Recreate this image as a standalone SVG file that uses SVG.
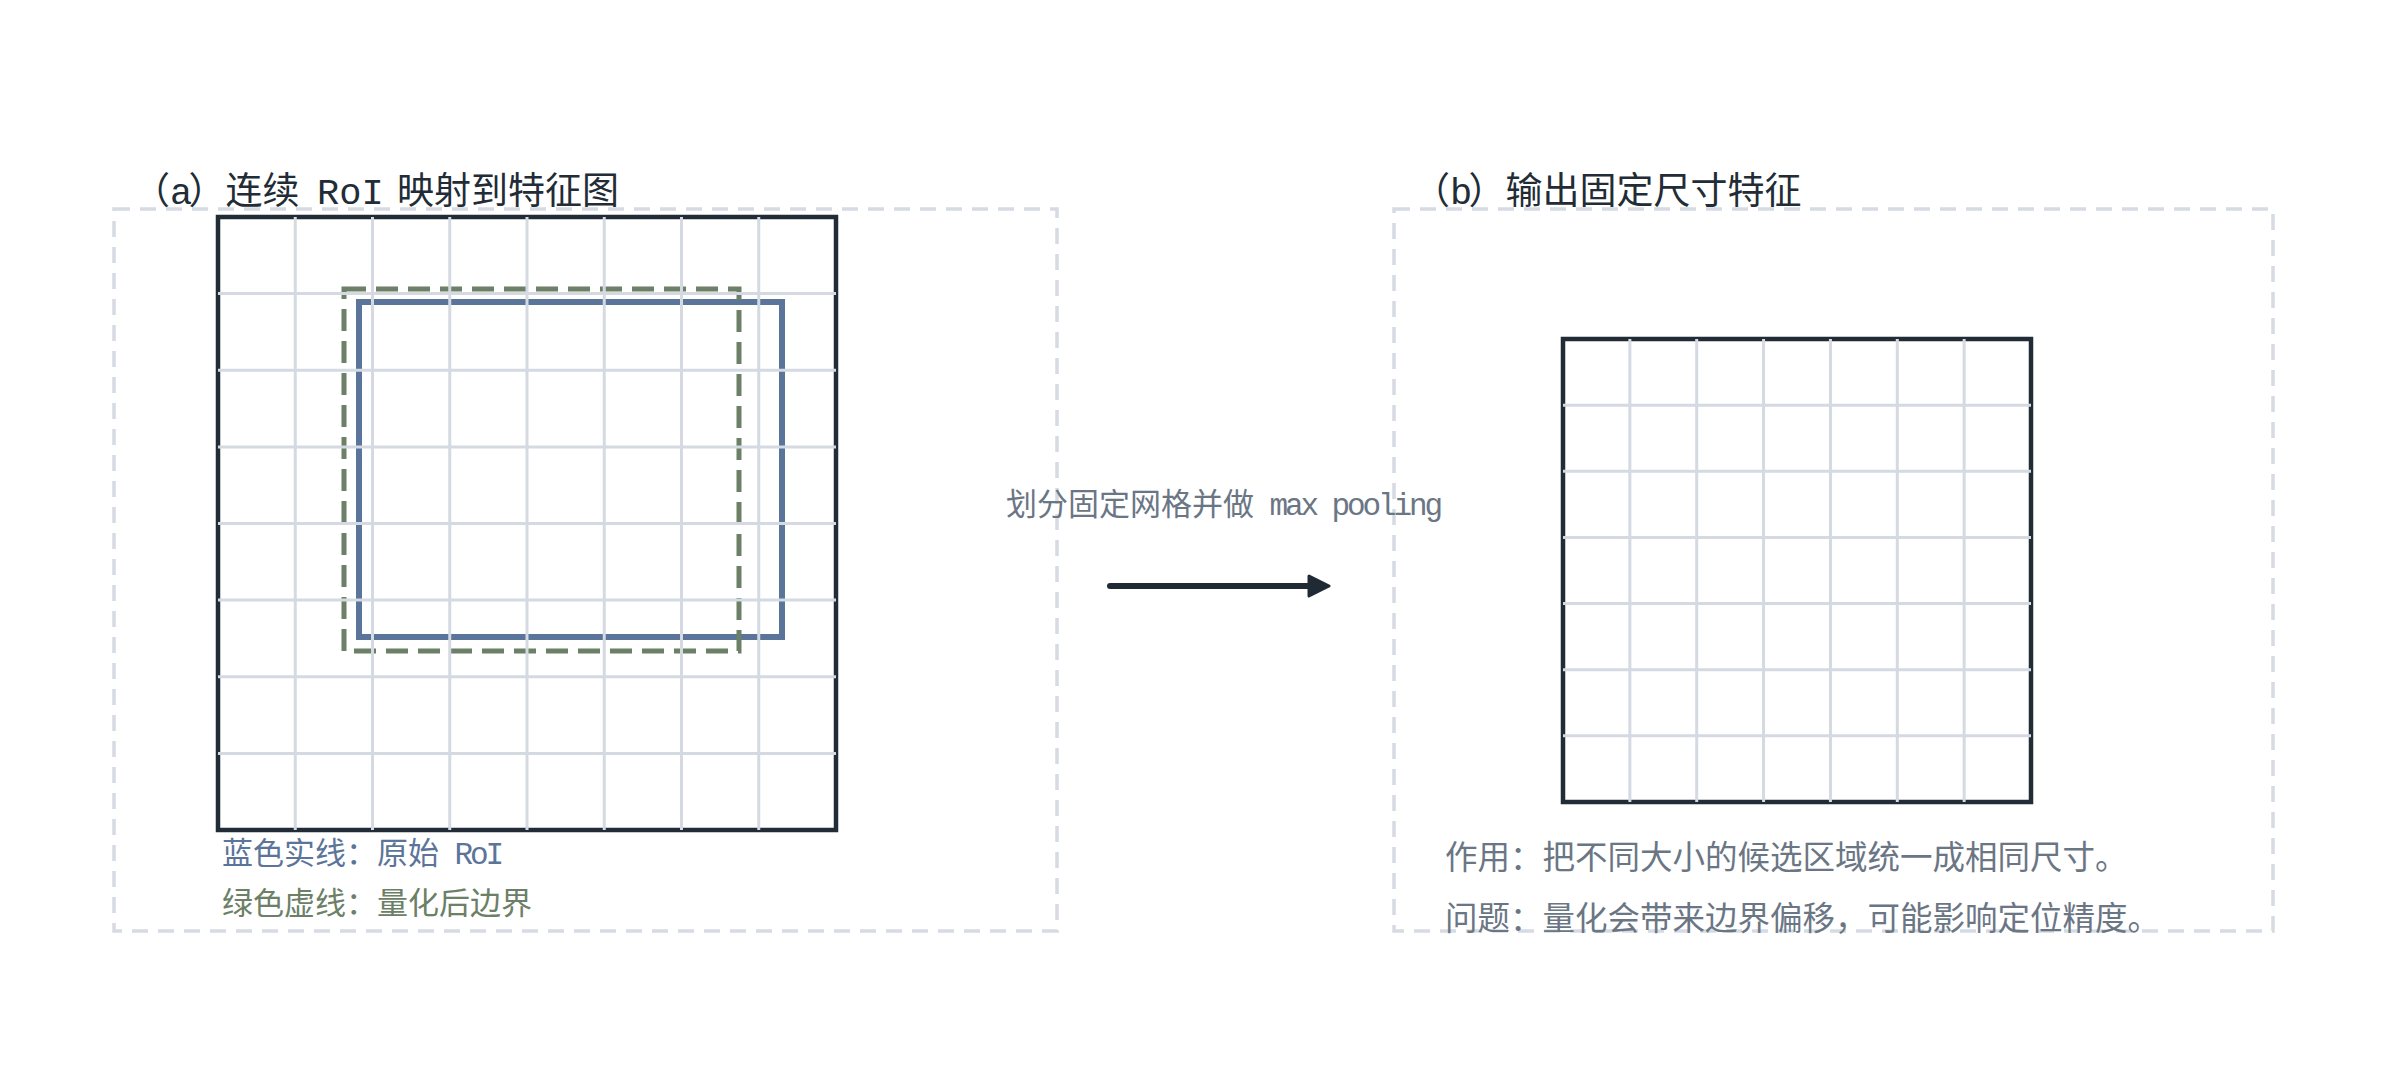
<svg xmlns="http://www.w3.org/2000/svg" width="2388" height="1079" viewBox="0 0 2388 1079">
<style>
text{font-family:"Liberation Mono","Noto Sans CJK SC",monospace}
.lat{letter-spacing:-0.1em}
.tight{letter-spacing:-0.5em}
.panel{fill:none;stroke:#d5dae3;stroke-width:3.5;stroke-dasharray:16 10}
.title{font-size:37px;fill:#222c36}
.grid{stroke:#d4d9e2;stroke-width:3;fill:none}
.border{fill:none;stroke:#222c36;stroke-width:4.5}
.note{font-size:32.5px;fill:#6b7685}
</style>
<defs>
<marker id="ah" viewBox="0 0 24 24" refX="11" refY="12" markerWidth="24" markerHeight="24" orient="auto" markerUnits="userSpaceOnUse">
<path d="M2,2 L22,12 L2,22 Z" fill="#1f2a35" stroke="#1f2a35" stroke-width="3" stroke-linejoin="round"/>
</marker>
</defs>
<rect width="2388" height="1079" fill="#ffffff"/>
<g id="panel-a">
<rect class="panel" x="114" y="209" width="943" height="722"/>
<text class="title" x="133" y="204">（<tspan class="lat">a</tspan>）连续 <tspan x="317">RoI<tspan class="tight"> </tspan></tspan><tspan x="397">映射到特征图</tspan></text>
<rect class="border" x="218" y="217" width="618" height="613"/>
<rect x="359" y="302" width="423" height="335" fill="none" stroke="#5b7499" stroke-width="6"/>
<rect x="344" y="289" width="395" height="362" fill="none" stroke="#6b8066" stroke-width="5" stroke-dasharray="22 10"/>
<path class="grid" d="M295.25,217V830M372.5,217V830M449.75,217V830M527,217V830M604.25,217V830M681.5,217V830M758.75,217V830M218,293.6H836M218,370.25H836M218,446.9H836M218,523.5H836M218,600.1H836M218,676.75H836M218,753.4H836"/>
<text x="222" y="864" font-size="31" fill="#5b7499">蓝色实线：原始<tspan class="lat"> RoI</tspan></text>
<text x="222" y="914" font-size="31" fill="#6b8066">绿色虚线：量化后边界</text>
</g>
<g id="panel-b">
<rect class="panel" x="1394" y="209" width="879" height="722"/>
<text class="title" x="1413" y="204">（<tspan class="lat">b</tspan>）输出固定尺寸特征</text>
<rect class="border" x="1563" y="339" width="468" height="463"/>
<path class="grid" d="M1629.86,339V802M1696.71,339V802M1763.57,339V802M1830.43,339V802M1897.29,339V802M1964.14,339V802M1563,405.14H2031M1563,471.29H2031M1563,537.43H2031M1563,603.57H2031M1563,669.71H2031M1563,735.86H2031"/>
<text class="note" x="1445" y="869">作用：把不同大小的候选区域统一成相同尺寸。</text>
<text class="note" x="1445" y="930">问题：量化会带来边界偏移，可能影响定位精度。</text>
</g>
<g id="connectors">
<line x1="1110" y1="586" x2="1318" y2="586" stroke="#1f2a35" stroke-width="6" stroke-linecap="round" marker-end="url(#ah)"/>
<text x="1006" y="515" font-size="31" fill="#6b7685">划分固定网格并做<tspan class="lat"> max pooling</tspan></text>
</g>
</svg>
